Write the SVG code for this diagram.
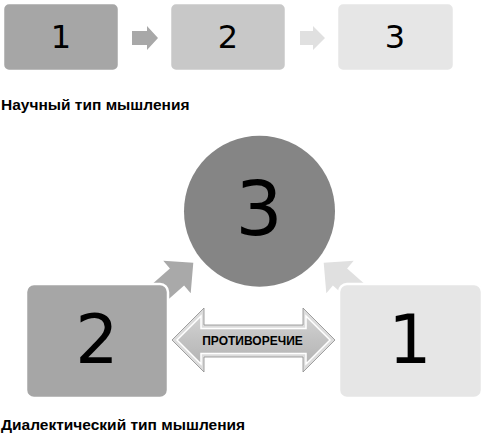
<svg xmlns="http://www.w3.org/2000/svg" width="485" height="433" viewBox="0 0 485 433">
<defs>
<style>
.num{font-family:"DejaVu Sans","Liberation Sans",sans-serif;fill:#000;text-anchor:middle}
.lbl{font-family:"Liberation Sans",Arial,sans-serif;font-weight:bold;fill:#000}
.box{stroke:#fff;stroke-width:2.5}
</style>
<linearGradient id="dg" x1="0" y1="0" x2="0" y2="1">
<stop offset="0" stop-color="#d2d2d2"/>
<stop offset="0.5" stop-color="#c2c2c2"/>
<stop offset="1" stop-color="#b4b4b4"/>
</linearGradient>
</defs>
<rect width="485" height="433" fill="#fff"/>

<g id="connectors">
<path d="M132,31 H147 V26 L158,38 L147,50 V45 H132 Z" fill="#a8a8a8"/>
<path d="M300,31 H313 V26 L325,38 L313,50 V45 H300 Z" fill="#e0e0e0"/>
<path d="M151.2,285.1 L169.9,268.6 L163.3,260.7 L193.3,262.7 L190.7,293.3 L184.1,285.4 L165.4,301.9 Z" fill="#a9a9a9"/>
<path d="M365.8,285.1 L347.1,268.6 L353.7,260.7 L323.7,262.7 L326.3,293.3 L332.9,285.4 L351.6,301.9 Z" fill="#e0e0e0"/>
</g>

<g id="top-1"><rect class="box" x="3" y="3" width="116" height="68" rx="6" fill="#a6a6a6"/><text class="num" x="61" y="48" font-size="32">1</text></g>
<g id="top-2"><rect class="box" x="170" y="3" width="116" height="68" rx="6" fill="#c8c8c8"/><text class="num" x="228" y="48" font-size="32">2</text></g>
<g id="top-3"><rect class="box" x="337" y="3" width="117" height="68" rx="6" fill="#e6e6e6"/><text class="num" x="395" y="48" font-size="32">3</text></g>

<text class="lbl" x="1" y="110" font-size="15.5">Научный тип мышления</text>

<g id="circle-3"><circle cx="259.5" cy="211.2" r="75.5" fill="#858585"/><text class="num" x="259" y="235" font-size="74">3</text></g>

<g id="box-2"><rect class="box" x="26" y="284" width="142" height="114" rx="8" fill="#a6a6a6"/><text class="num" x="97" y="362.7" font-size="68">2</text></g>
<g id="box-1"><rect class="box" x="339" y="284" width="143" height="114" rx="8" fill="#e6e6e6"/><text class="num" x="410" y="362.7" font-size="68">1</text></g>

<g id="contradiction">
<path d="M172,340 L204,308 V325 H303 V308 L335,340 L303,372 V357 H204 V372 Z" fill="#dcdcdc" stroke="#8a8a8a" stroke-width="0.8"/>
<path d="M177,340 L201,316 V328.5 H306 V316 L330,340 L306,364 V353.5 H201 V364 Z" fill="url(#dg)" stroke="#fff" stroke-width="1.5"/>
<text class="lbl" x="252.5" y="345" font-size="12" text-anchor="middle">ПРОТИВОРЕЧИЕ</text>
</g>

<text class="lbl" x="1" y="430" font-size="15.5">Диалектический тип мышления</text>
</svg>
